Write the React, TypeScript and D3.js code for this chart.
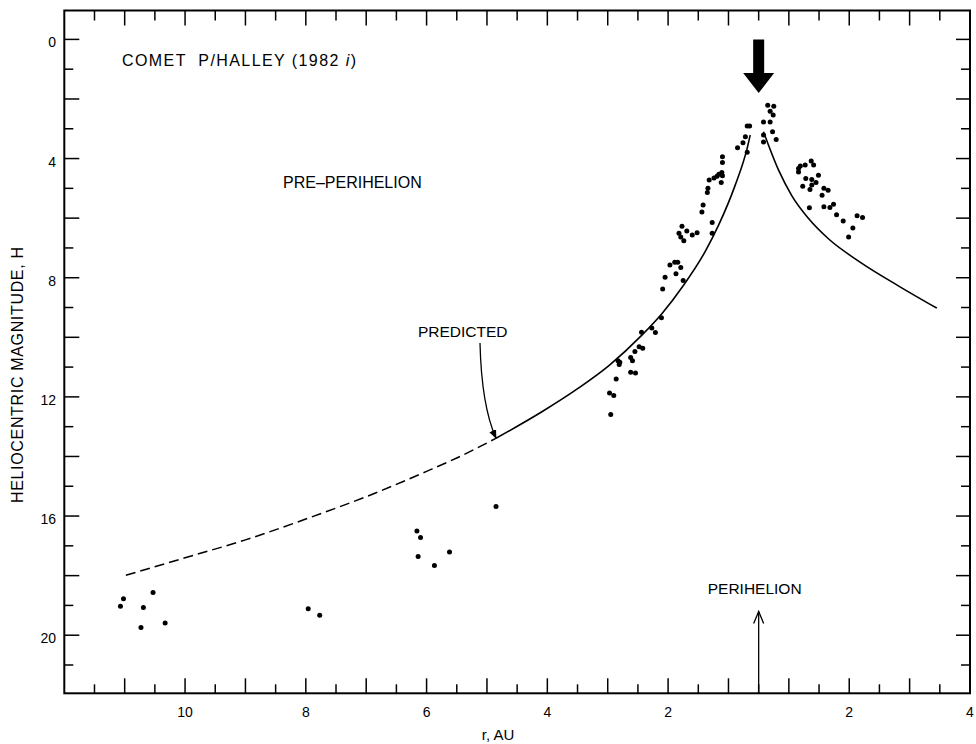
import React from "react"
import * as d3 from "d3"

const WIDTH = 976
const HEIGHT = 744
const FONT = "'Liberation Sans', Arial, sans-serif"

// Observed heliocentric magnitudes, pre-perihelion (r in AU)
const preR = [
  11.02, 11.07, 10.53, 10.69, 10.73, 10.33, 7.96, 7.77,
  4.85, 6.16, 6.1, 6.14, 5.87, 5.62,
  1.97, 1.89, 1.84, 1.79, 1.87, 2.05, 1.75, 2.09, 2.11, 2.27, 2.21, 2.44, 2.48,
  2.42, 2.55, 2.62, 2.59, 2.83, 2.8, 2.81, 2.62, 2.54, 2.86, 2.97, 2.9, 2.95,
  0.69, 0.65, 0.72, 0.76, 0.85, 0.69, 1.1, 1.1, 1.11, 1.16, 1.1, 1.19, 1.24,
  1.32, 1.12, 1.34, 1.35, 1.42, 1.44, 1.27, 1.77, 1.69, 1.82, 1.6, 1.52, 1.74,
  1.27, 1.79,
]
const preH = [
  18.78, 19.03, 18.57, 19.07, 19.74, 19.59, 19.11, 19.33,
  15.68, 16.5, 16.72, 17.36, 17.66, 17.21,
  7.57, 7.48, 7.48, 7.66, 7.87, 7.98, 8.09, 8.38, 9.34, 9.69, 9.84, 9.83, 10.32,
  10.37, 10.48, 10.68, 10.79, 10.79, 10.84, 10.91, 11.17, 11.2, 11.4, 11.87, 11.95, 12.59,
  2.91, 2.91, 3.27, 3.47, 3.64, 3.79, 3.94, 4.13, 4.47, 4.53, 4.58, 4.59, 4.65,
  4.72, 4.8, 5.0, 5.14, 5.56, 5.79, 6.15, 6.27, 6.43, 6.51, 6.57, 6.49, 6.76,
  6.51, 6.63,
]

// Observed heliocentric magnitudes, post-perihelion
const postR = [
  0.65, 0.75, 0.69, 0.74, 0.58, 0.69, 0.73, 0.79, 0.58, 0.58,
  1.16, 1.19, 1.27, 1.37, 1.41, 1.16, 1.28, 1.38, 1.49, 1.45, 1.23, 1.35, 1.38,
  1.58, 1.65, 1.55, 1.58, 1.68, 1.74, 1.34, 1.79, 1.9, 2.13, 2.22, 2.06, 1.99,
]
const postH = [
  2.21, 2.24, 2.41, 2.54, 2.77, 2.77, 3.1, 3.36, 3.21, 3.44,
  4.33, 4.25, 4.22, 4.08, 4.22, 4.45, 4.67, 4.7, 4.56, 4.8, 4.93, 5.04, 4.89,
  5.0, 5.06, 5.23, 5.62, 5.64, 5.53, 5.65, 5.89, 6.1, 5.92, 5.98, 6.33, 6.63,
]

// Predicted light curve
const predPreR = [10.98, 10, 9, 8, 7, 6, 5.5, 4.85, 4.09, 3.48, 2.98, 2.43, 2.1, 1.75, 1.38, 1.16, 0.89, 0.69, 0.64]
const predPreH = [17.99, 17.4, 16.8, 16.1, 15.35, 14.5, 14.05, 13.39, 12.5, 11.7, 10.95, 9.92, 9.2, 8.27, 7.1, 6.22, 4.9, 3.65, 3.21]
const predPostR = [0.58, 0.83, 1.05, 1.33, 1.66, 2.16, 2.82, 3.45]
const predPostH = [3.1, 4.39, 5.25, 6.02, 6.7, 7.45, 8.28, 9.02]
const DASHED_BEYOND_R = 4.85

const preTickLabels = [10, 8, 6, 4, 2]
const postTickLabels = [2, 4]
const yTickLabels = [0, 4, 8, 12, 16, 20]

// axis is folded at r = 0.5 (perihelion mark)
const FOLD = 0.5
const toU = (r: number, leg: "pre" | "post") => (leg === "pre" ? FOLD - r : r - FOLD)

export default function App() {
  const left = 64.3
  const right = 970
  const top = 10.5
  const bottom = 693.3

  const x = d3.scaleLinear().domain([-11.5, 3.5]).range([left, right])
  const y = d3.scaleLinear().domain([-0.97, 21.95]).range([top, bottom])

  const uTicks = d3.range(-22, 7).map(k => k / 2)
  const isLongU = (u: number) => Math.abs((u - 0.5) % 1) < 1e-6
  const yTicks = d3.range(0, 22)

  const pre = preR.map((r, i) => [r, preH[i]] as [number, number])
  const post = postR.map((r, i) => [r, postH[i]] as [number, number])
  const predPre = predPreR.map((r, i) => [r, predPreH[i]] as [number, number])
  const predPost = predPostR.map((r, i) => [r, predPostH[i]] as [number, number])

  const linePre = d3
    .line<[number, number]>()
    .x(d => x(toU(d[0], "pre")))
    .y(d => y(d[1]))
    .curve(d3.curveMonotoneX)
  const linePost = d3
    .line<[number, number]>()
    .x(d => x(toU(d[0], "post")))
    .y(d => y(d[1]))
    .curve(d3.curveMonotoneX)

  const dashedPart = predPre.filter(d => d[0] >= DASHED_BEYOND_R)
  const solidPart = predPre.filter(d => d[0] <= DASHED_BEYOND_R)

  // big arrow over perihelion
  const ax = x(0)
  const shaftTop = y(0)
  const shaftBot = y(1.13)
  const tip = y(1.8)
  const bigArrow = `M${ax - 5.5},${shaftTop} L${ax + 5.5},${shaftTop} L${ax + 5.5},${shaftBot} L${ax + 15.5},${shaftBot} L${ax},${tip} L${ax - 15.5},${shaftBot} L${ax - 5.5},${shaftBot} Z`

  // predicted arrow tip on the curve
  const tipX = x(toU(DASHED_BEYOND_R, "pre"))
  const tipY = y(13.39)

  const periTop = y(19.2)

  return (
    <svg
      width={WIDTH}
      height={HEIGHT}
      style={{ position: "absolute", left: 0, top: 0, display: "block", background: "#fff" }}
      fontFamily={FONT}
    >
      <defs>
        <marker id="pred-head" viewBox="0 0 10 10" refX="9" refY="5" markerWidth="7" markerHeight="7" orient="auto">
          <path d="M0,1 L10,5 L0,9 Z" fill="#000" />
        </marker>
      </defs>
      <rect width={WIDTH} height={HEIGHT} fill="#fff" />

      {/* frame */}
      <rect x={left} y={top} width={right - left} height={bottom - top} fill="none" stroke="#000" strokeWidth={2} />

      {/* x ticks, top and bottom */}
      {uTicks.map(u => {
        const long = isLongU(u)
        const px = x(u)
        return (
          <g key={"u" + u}>
            <line x1={px} x2={px} y1={bottom} y2={bottom - (long ? 15 : 9)} stroke="#000" strokeWidth={1.5} />
            <line x1={px} x2={px} y1={top} y2={top + (long ? 15 : 10)} stroke="#000" strokeWidth={1.5} />
          </g>
        )
      })}

      {/* y ticks, left and right */}
      {yTicks.map(t => {
        const long = t % 2 === 0
        const py = y(t)
        return (
          <g key={"y" + t}>
            <line x1={left} x2={left + (long ? 15 : 9)} y1={py} y2={py} stroke="#000" strokeWidth={1.5} />
            <line x1={right} x2={right - (long ? 14 : 9)} y1={py} y2={py} stroke="#000" strokeWidth={1.5} />
          </g>
        )
      })}

      {/* tick labels */}
      {preTickLabels.map(r => (
        <text key={"pl" + r} x={x(toU(r, "pre"))} y={717} fontSize={14} textAnchor="middle">
          {r}
        </text>
      ))}
      {postTickLabels.map(r => (
        <text key={"ql" + r} x={x(toU(r, "post"))} y={717} fontSize={14} textAnchor="middle">
          {r}
        </text>
      ))}
      {yTickLabels.map(t => (
        <text key={"yl" + t} x={56} y={y(t) + 3} fontSize={14} textAnchor="end" dominantBaseline="central">
          {t}
        </text>
      ))}

      {/* axis titles */}
      <text x={498} y={740} fontSize={15} textAnchor="middle">
        r, AU
      </text>
      <text
        transform={`translate(23, 375) rotate(-90)`}
        fontSize={16}
        textAnchor="middle"
        textLength={256}
        lengthAdjust="spacing"
      >
        HELIOCENTRIC MAGNITUDE, H
      </text>

      {/* predicted curve */}
      <path d={linePre(dashedPart) || ""} fill="none" stroke="#000" strokeWidth={1.5} strokeDasharray="10 5" />
      <path d={linePre(solidPart) || ""} fill="none" stroke="#000" strokeWidth={1.6} />
      <path d={linePost(predPost) || ""} fill="none" stroke="#000" strokeWidth={1.6} />

      {/* observations */}
      {pre.map((d, i) => (
        <circle key={"o" + i} cx={x(toU(d[0], "pre"))} cy={y(d[1])} r={2.5} fill="#000" />
      ))}
      {post.map((d, i) => (
        <circle key={"p" + i} cx={x(toU(d[0], "post"))} cy={y(d[1])} r={2.5} fill="#000" />
      ))}

      {/* annotations */}
      <text x={122} y={66} fontSize={16} textLength={234} lengthAdjust="spacing" style={{ whiteSpace: "pre" }}>
        COMET  P/HALLEY (1982 <tspan fontStyle="italic">i</tspan>)
      </text>
      <text x={283} y={188} fontSize={16}>
        PRE–PERIHELION
      </text>
      <text x={418} y={337} fontSize={15.5}>
        PREDICTED
      </text>
      <path
        d={`M480,343 C481,385 487,418 ${tipX},${tipY}`}
        fill="none"
        stroke="#000"
        strokeWidth={1.3}
        markerEnd="url(#pred-head)"
      />
      <path d={bigArrow} fill="#000" />

      <text x={ax - 4} y={594} fontSize={15.5} textAnchor="middle">
        PERIHELION
      </text>
      <line x1={ax} x2={ax} y1={bottom} y2={periTop} stroke="#000" strokeWidth={1.3} />
      <path
        d={`M${ax - 5},${periTop + 12} L${ax},${periTop} L${ax + 5},${periTop + 12}`}
        fill="none"
        stroke="#000"
        strokeWidth={1.3}
      />
    </svg>
  )
}
